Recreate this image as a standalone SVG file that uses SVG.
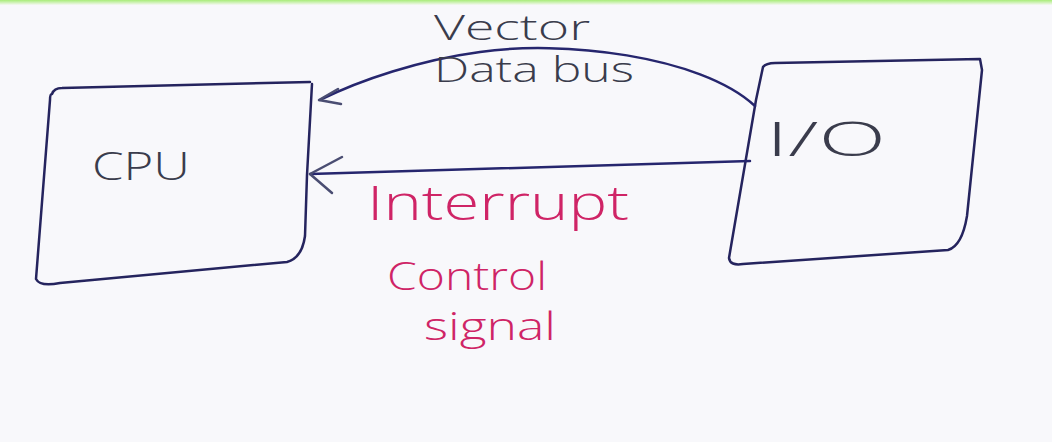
<svg xmlns="http://www.w3.org/2000/svg" width="1052" height="442" viewBox="0 0 1052 442">
<defs>
<linearGradient id="topbar" x1="0" y1="0" x2="0" y2="1">
<stop offset="0" stop-color="#a8ec78"/>
<stop offset="1" stop-color="#f6f8f4"/>
</linearGradient>
</defs>
<style>
.box{fill:none;stroke:#25245e;stroke-width:2.5;stroke-linecap:round;stroke-linejoin:round}
.conn{fill:none;stroke:#26266e;stroke-width:2.5;stroke-linecap:round;stroke-linejoin:round}
.head{fill:none;stroke:#4a4d72;stroke-width:2.5;stroke-linecap:round;stroke-linejoin:round}
.lbl{font-family:"Open Sans","Liberation Sans",sans-serif;font-weight:300;fill:#3a3c4c}
.pink{font-family:"Open Sans","Liberation Sans",sans-serif;font-weight:300;fill:#cf2466}
</style>
<rect x="0" y="0" width="1052" height="442" fill="#f8f8fb"/>
<rect x="0" y="0" width="1052" height="5" fill="url(#topbar)"/>

<g id="cpu">
<path class="box" d="M52,94 Q54,88 62,88 L310,82 M312,84 L307,175 L305,236 Q302,258 287,262 L60,283 Q40,287 36,279 L50,100 Q50,94 52,94"/>
<text class="lbl" x="92" y="180" font-size="38" textLength="98" lengthAdjust="spacingAndGlyphs">CPU</text>
</g>

<g id="io">
<path class="box" d="M763,67 Q766,63 775,63 L980,59 L982,70 L967,216 Q962,246 948,250 L743,264 Q730,266 729,258 L756,100 L763,67"/>
<text class="lbl" x="766" y="156" font-size="48" textLength="120" lengthAdjust="spacingAndGlyphs">I/O</text>
</g>

<g id="connectors">
<path class="conn" d="M755,106 C700,55 560,40 480,52 C420,60 360,80 320,100"/>
<path class="head" d="M338,89 L319,100 L341,104"/>
<path class="conn" d="M750,161 L310,174"/>
<path class="head" d="M342,157 L310,174 L332,193"/>
</g>

<g id="labels">
<text class="lbl" x="434" y="40" font-size="34" textLength="156" lengthAdjust="spacingAndGlyphs">Vector</text>
<text class="lbl" x="434" y="82" font-size="34" textLength="200" lengthAdjust="spacingAndGlyphs">Data bus</text>
<text class="pink" x="367" y="220" font-size="48" textLength="262" lengthAdjust="spacingAndGlyphs">Interrupt</text>
<text class="pink" x="387" y="290" font-size="38" textLength="160" lengthAdjust="spacingAndGlyphs">Control</text>
<text class="pink" x="424" y="340" font-size="38" textLength="132" lengthAdjust="spacingAndGlyphs">signal</text>
</g>
</svg>
